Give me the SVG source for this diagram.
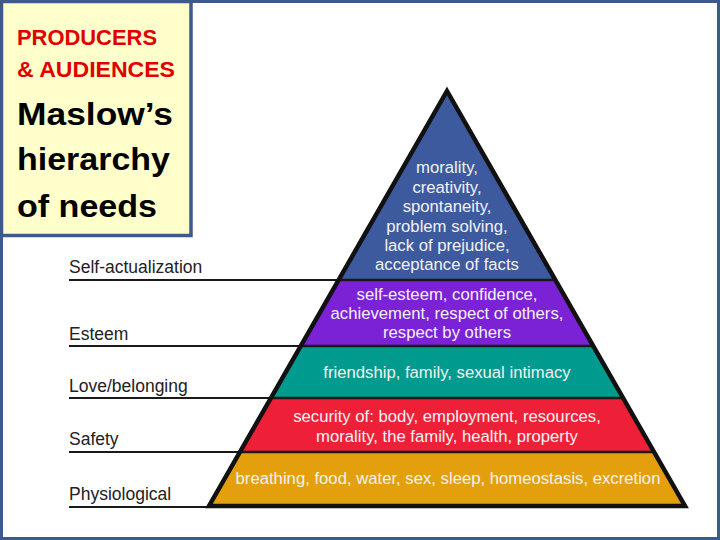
<svg xmlns="http://www.w3.org/2000/svg" width="720" height="540" viewBox="0 0 720 540">
<style>
.frame{fill:#ffffff;stroke:#3c5a8a;stroke-width:3}
.titlebox{fill:#ffffcc;stroke:#3c5a8a;stroke-width:3.5}
.t-red{font-family:"Liberation Sans",Arial,sans-serif;font-weight:bold;font-size:22px;fill:#e00000}
.t-big{font-family:"Liberation Sans",Arial,sans-serif;font-weight:bold;font-size:32px;fill:#000000}
.lbl{font-family:"Liberation Sans",Arial,sans-serif;font-size:17.5px;fill:#222222}
.in{font-family:"Liberation Sans",Arial,sans-serif;font-size:16.7px;fill:#f2f2f2;text-anchor:middle}
.lvl-line{stroke:#1a1a1a;stroke-width:2.2;fill:none}
.sep{stroke:#1a1a1a;stroke-width:2.5;fill:none}
.outline{fill:none;stroke:#111111;stroke-width:4.5;stroke-linejoin:miter}
</style>
<rect class="frame" x="1.5" y="1.5" width="717" height="537"/>

<g id="title">
<rect class="titlebox" x="1.5" y="1.5" width="189.5" height="234"/>
<text class="t-red" x="17" y="45" textLength="140" lengthAdjust="spacingAndGlyphs">PRODUCERS</text>
<text class="t-red" x="17" y="77" textLength="158" lengthAdjust="spacingAndGlyphs">&amp; AUDIENCES</text>
<text class="t-big" x="17" y="125" textLength="156" lengthAdjust="spacingAndGlyphs">Maslow’s</text>
<text class="t-big" x="17" y="170" textLength="153" lengthAdjust="spacingAndGlyphs">hierarchy</text>
<text class="t-big" x="17" y="217" textLength="140" lengthAdjust="spacingAndGlyphs">of needs</text>
</g>

<g id="connectors">
<line class="lvl-line" x1="69" y1="280" x2="340" y2="280"/>
<line class="lvl-line" x1="69" y1="346" x2="302" y2="346"/>
<line class="lvl-line" x1="69" y1="398" x2="272" y2="398"/>
<line class="lvl-line" x1="69" y1="452" x2="241" y2="452"/>
<line class="lvl-line" x1="69" y1="507" x2="210" y2="507"/>
</g>

<g id="level-self-actualization">
<polygon points="447,91 555.4,280 338.6,280" fill="#3d5a9e"/>
<text class="lbl" x="69" y="273">Self-actualization</text>
<text class="in" x="447" y="173">morality,</text>
<text class="in" x="447" y="193">creativity,</text>
<text class="in" x="447" y="212">spontaneity,</text>
<text class="in" x="447" y="232">problem solving,</text>
<text class="in" x="447" y="251">lack of prejudice,</text>
<text class="in" x="447" y="270">acceptance of facts</text>
</g>

<g id="level-esteem">
<polygon points="338.6,280 555.4,280 593.2,346 300.8,346" fill="#7b22d6"/>
<text class="lbl" x="69" y="340">Esteem</text>
<text class="in" x="447" y="300">self-esteem, confidence,</text>
<text class="in" x="447" y="319">achievement, respect of others,</text>
<text class="in" x="447" y="338">respect by others</text>
</g>

<g id="level-love">
<polygon points="300.8,346 593.2,346 623.1,398 270.9,398" fill="#009a8e"/>
<text class="lbl" x="69" y="392">Love/belonging</text>
<text class="in" x="447" y="378">friendship, family, sexual intimacy</text>
</g>

<g id="level-safety">
<polygon points="270.9,398 623.1,398 654,452 240,452" fill="#ee2038"/>
<text class="lbl" x="69" y="445">Safety</text>
<text class="in" x="447" y="422">security of: body, employment, resources,</text>
<text class="in" x="447" y="442">morality, the family, health, property</text>
</g>

<g id="level-physiological">
<polygon points="240,452 654,452 685,506 209,506" fill="#e4a00c"/>
<text class="lbl" x="69" y="500">Physiological</text>
<text class="in" x="448" y="484">breathing, food, water, sex, sleep, homeostasis, excretion</text>
</g>

<g id="pyramid-lines">
<line class="sep" x1="338.6" y1="280" x2="555.4" y2="280"/>
<line class="sep" x1="300.8" y1="346" x2="593.2" y2="346"/>
<line class="sep" x1="270.9" y1="398" x2="623.1" y2="398"/>
<line class="sep" x1="240" y1="452" x2="654" y2="452"/>
<polygon class="outline" points="447,91 685,506 209,506"/>
</g>
</svg>
